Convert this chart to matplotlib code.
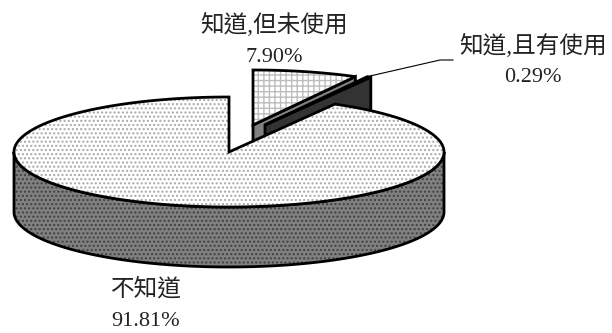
import matplotlib
matplotlib.use("Agg")
import matplotlib.pyplot as plt
from matplotlib.patches import Polygon
import numpy as np

plt.rcParams["font.family"] = ["Liberation Serif", "Noto Sans CJK TC"]
plt.rcParams["hatch.linewidth"] = 1.0

# data
labels = ["知道,但未使用", "知道,且有使用", "不知道"]
values = [7.90, 0.29, 91.81]
value_text = ["7.90%", "0.29%", "91.81%"]

# pie geometry, in pixels
rx = 215
ry = 55
depth = 60
centers = [(253, 125), (265, 125), (229, 152)]

fig = plt.figure(figsize=(6.12, 3.33), dpi=100)
ax = fig.add_axes([0, 0, 1, 1])
ax.set_xlim(0, 612)
ax.set_ylim(333, 0)
ax.set_axis_off()


def ell(c, t, dy=0):
    t = np.radians(t)
    return np.column_stack([c[0] + rx * np.cos(t), c[1] - ry * np.sin(t) + dy])


def draw_slice(c, t1, t2, top_kw, side_kw):
    # t1 -> t2 going clockwise in angle (t2 < t1)
    ts = np.linspace(t1, t2, 300)
    # cut face on the t2 edge, only seen on slices in the back right
    p2 = ell(c, t2)[0]
    if t2 > 0:
        face = [c, p2, p2 + [0, depth], np.array(c) + [0, depth]]
        ax.add_patch(Polygon(face, closed=True, **side_kw))
        # outer wall right of the tip is hidden, only the tip edge shows
    # front wall
    front = np.linspace(max(t1 - 360, -180) if t1 > 180 else 0, 0, 2)
    top = np.vstack([[c], ell(c, ts)])
    return top, ts


# exploded slices go back to front, the big one covers them
start = 90
edges = [start]
for v in values:
    edges.append(edges[-1] - v * 3.6)

side_gray = dict(facecolor="#808080", edgecolor="black", lw=2)

# 7.90 slice
top, ts = draw_slice(centers[0], edges[0], edges[1], {}, side_gray)
ax.add_patch(Polygon(top, closed=True, facecolor="white", edgecolor="#bdbdbd",
                     hatch="+++", lw=0))
ax.add_patch(Polygon(top, closed=True, fill=False, edgecolor="black", lw=2))

# 0.29 slice
dark = dict(facecolor="#333333", edgecolor="black", lw=2)
top, ts = draw_slice(centers[1], edges[1], edges[2], {}, dark)
ax.add_patch(Polygon(top, closed=True, facecolor="#333333", edgecolor="black", lw=2))

# 91.81 slice, wall first then the top
c = centers[2]
front_t = np.linspace(180, 360, 300)
wall = np.vstack([ell(c, front_t), ell(c, front_t[::-1], depth)])
ax.add_patch(Polygon(wall, closed=True, facecolor="#808080", edgecolor="#404040",
                     hatch="....", lw=0))
ax.add_patch(Polygon(wall, closed=True, fill=False, edgecolor="black", lw=2))
ts = np.linspace(edges[2], edges[3], 900)
top = np.vstack([[c], ell(c, ts)])
ax.add_patch(Polygon(top, closed=True, facecolor="white", edgecolor="#a8a8a8",
                     hatch="....", lw=0))
ax.add_patch(Polygon(top, closed=True, fill=False, edgecolor="black", lw=2))

# leader line
ax.plot([370, 440, 453], [76, 60, 60], color="black", lw=0.8)

# labels
name_pos = [(274, 25), (533, 46), (146, 289)]
val_pos = [(274, 57), (533, 78), (146, 322)]
for i in range(3):
    ax.text(name_pos[i][0], name_pos[i][1], labels[i], fontsize=17, ha="center",
            va="center", color="#222222")
    ax.text(val_pos[i][0], val_pos[i][1], value_text[i], fontsize=16, ha="center",
            va="center", color="#222222")

fig.savefig("out.png", dpi=100)
